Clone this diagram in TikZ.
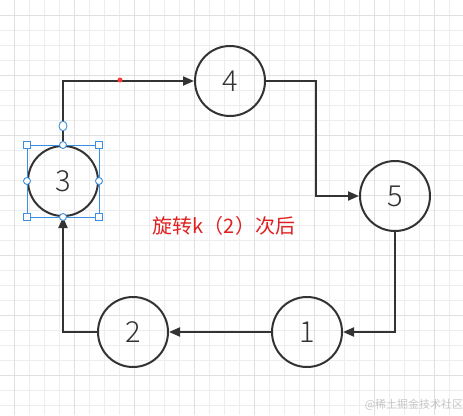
\documentclass[tikz,border=0pt]{standalone}
\usepackage{fontspec}
\setmainfont{Noto Sans CJK SC}
\newfontfamily\lightfont{Noto Sans CJK SC Light}
\usetikzlibrary{arrows.meta}
\definecolor{ink}{HTML}{333333}
\definecolor{sel}{HTML}{3D8FE0}
\definecolor{gridminor}{HTML}{EDEDED}
\definecolor{gridmajor}{HTML}{E0E0E0}
\definecolor{redtxt}{HTML}{E02020}
\tikzset{
  circ/.style={circle,draw=ink,line width=2pt,minimum size=70pt,inner sep=0pt,font=\lightfont\fontsize{29}{29}\selectfont,text=ink},
  conn/.style={draw=ink,line width=2pt,-{Triangle[length=11pt,width=9pt]}},
  sqh/.style={rectangle,draw=sel,fill=white,line width=0.9pt,minimum size=7pt,inner sep=0pt},
  cih/.style={circle,draw=sel,fill=white,line width=0.9pt,minimum size=7pt,inner sep=0pt},
}
\begin{document}
\begin{tikzpicture}[x=1pt,y=-1pt]
\useasboundingbox (0,0) rectangle (463,415);
\fill[white] (0,0) rectangle (463,415);
% grid
\foreach \i in {0,...,30} {
  \draw[gridminor,line width=0.8pt] ({14+15*\i},0) -- ({14+15*\i},415);
}
\foreach \j in {1,...,27} {
  \draw[gridminor,line width=0.8pt] (0,{15*\j}) -- (463,{15*\j});
}
\foreach \i in {0,...,7} {
  \draw[gridmajor,line width=0.8pt] ({14+60*\i},0) -- ({14+60*\i},415);
}
\foreach \j in {0,...,6} {
  \draw[gridmajor,line width=0.8pt] (0,{15+60*\j}) -- (463,{15+60*\j});
}
% nodes
\node[circ] (n3) at (63,181) {3};
\node[circ] (n4) at (230,81) {4};
\node[circ] (n5) at (395,196) {5};
\node[circ] (n1) at (307,332) {1};
\node[circ] (n2) at (133,332) {2};
% connectors
\draw[conn] (n3.north) |- (n4.west);
\draw[conn] (n4.east) -- ++(50,0) |- (n5.west);
\draw[conn] (n5.south) |- (n1.east);
\draw[conn] (n1.west) -- (n2.east);
\draw[conn] (n2.west) -| (n3.south);
% red waypoint dot
\coordinate (dot) at (120,80);
\fill[red!70!pink] (dot) circle (2.5pt);
% selection box
\coordinate (tl) at (n3.west |- n3.north);
\coordinate (tr) at (n3.east |- n3.north);
\coordinate (bl) at (n3.west |- n3.south);
\coordinate (br) at (n3.east |- n3.south);
\draw[sel,line width=0.7pt] (tl) rectangle (br);
\node[sqh] at (tl) {};
\node[sqh] at (tr) {};
\node[sqh] at (bl) {};
\node[sqh] at (br) {};
\node[cih] at (n3.north) {};
\node[cih] at (n3.south) {};
\node[cih] at (n3.west) {};
\node[cih] at (n3.east) {};
\node[circle,draw=sel,fill=white,line width=0.9pt,minimum width=8pt,inner sep=0pt,yscale=1.2] (rot) at (63,126) {};
% text
\node[text=redtxt,font=\fontsize{20}{20}\selectfont] (cap) at (224,226) {旋转k（2）次后};
\node[text=gray!45,font=\fontsize{11}{11}\selectfont] (wm) at (414,405) {@稀土掘金技术社区};
\end{tikzpicture}
\end{document}
